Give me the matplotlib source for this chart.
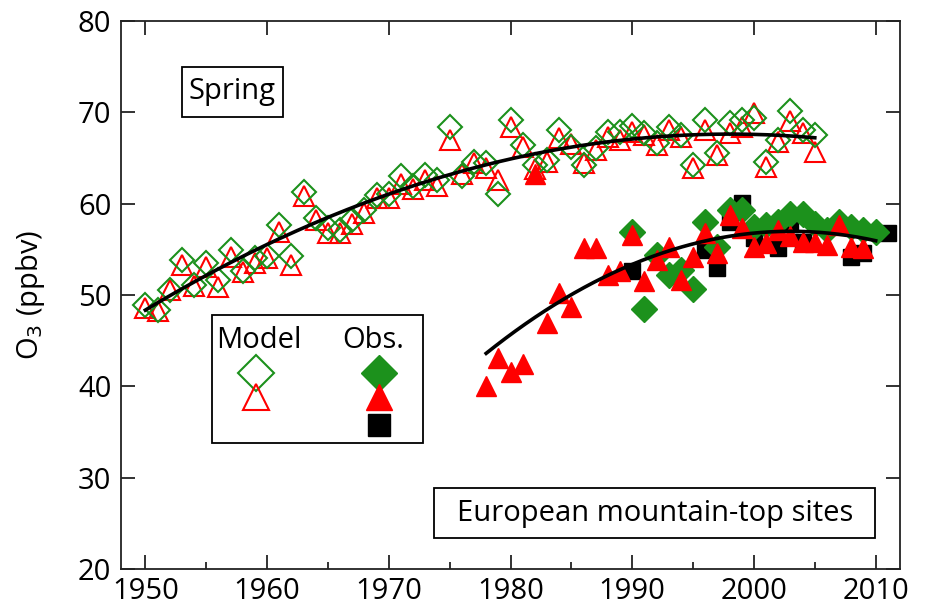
import numpy as np
import matplotlib
matplotlib.use("Agg")
import matplotlib.pyplot as plt
from matplotlib.patches import Rectangle
from matplotlib.ticker import MultipleLocator

plt.rcParams['font.family'] = ['Open Sans', 'DejaVu Sans']

# ---------------- data ----------------
model_years = list(range(1950, 2006))
model_diamond = [48.9, 48.35, 50.55, 53.8, 51.1, 53.5, 51.6, 54.9, 52.6, 54.0,
                 54.3, 57.7, 54.3, 61.3, 58.4, 57.3, 57.1, 58.2, 59.3, 60.9,
                 61.1, 63.0, 61.9, 63.1, 62.6, 68.4, 63.0, 64.6, 64.4, 61.1,
                 69.2, 66.4, 64.2, 64.8, 68.1, 66.2, 64.2, 66.1, 67.9, 67.9,
                 68.5, 67.7, 66.6, 68.4, 67.5, 64.2, 69.2, 65.5, 68.8, 69.2,
                 69.4, 64.6, 67.0, 70.1, 68.1, 67.5]
model_triangle = [48.6, 48.2, 50.6, 53.3, 51.0, 53.1, 50.9, 54.2, 52.5, 53.5,
                  54.1, 56.9, 53.3, 60.8, 58.2, 56.8, 56.8, 57.8, 59.0, 60.6,
                  60.6, 62.2, 61.6, 62.6, 61.9, 67.0, 63.3, 64.4, 63.9, 62.6,
                  68.4, 66.2, 63.8, 64.6, 67.2, 66.5, 64.4, 65.9, 67.3, 67.0,
                  67.9, 67.5, 66.4, 68.1, 67.3, 63.9, 68.1, 65.3, 67.7, 68.4,
                  69.9, 64.0, 66.8, 69.0, 67.7, 65.7]

obs_tri_years = list(range(1978, 2010))
obs_triangle = [40.0, 43.1, 41.6, 42.5, 63.3, 46.9, 50.2, 48.7, 55.1, 55.1,
                52.2, 52.6, 56.6, 51.5, 53.8, 55.3, 51.6, 54.2, 56.8, 54.6,
                58.8, 57.3, 55.3, 55.7, 57.1, 56.5, 55.8, 55.8, 55.5, 57.7,
                55.3, 55.1]
obs_dia_years = list(range(1990, 2011))
obs_diamond = [56.9, 48.5, 54.4, 52.2, 52.7, 50.7, 58.0, 55.3, 59.3, 59.3,
               57.5, 57.7, 58.0, 58.9, 58.9, 57.8, 57.1, 58.0, 57.5, 57.1, 56.9]
obs_sq_years = [1990, 1996, 1997, 1998, 1999, 2000, 2002, 2003, 2004, 2008, 2009, 2011]
obs_square = [52.6, 54.9, 53.0, 58.0, 60.1, 56.2, 55.1, 57.8, 55.8, 54.2, 54.6, 56.8]

x_ticks = [1950, 1960, 1970, 1980, 1990, 2000, 2010]
y_ticks = [20, 30, 40, 50, 60, 70, 80]

GREEN = '#1c911c'
RED = '#ff0000'

# ---------------- figure ----------------
fig = plt.figure(figsize=(9.28, 6.12), dpi=100)
ax = fig.add_axes([121/928, 1-569/612, 779/928, 548/612])

# model (open markers)
ax.plot(model_years, model_triangle, ls='none', marker='^', ms=15,
        mfc='none', mec=RED, mew=1.5, zorder=3)
ax.plot(model_years, model_diamond, ls='none', marker='D', ms=12,
        mfc='none', mec=GREEN, mew=1.5, zorder=4)

# observations (filled)
ax.plot(obs_sq_years, obs_square, ls='none', marker='s', ms=12,
        mfc='black', mec='black', zorder=3)
ax.plot(obs_dia_years, obs_diamond, ls='none', marker='D', ms=13.5,
        mfc=GREEN, mec=GREEN, zorder=4)
ax.plot(obs_tri_years, obs_triangle, ls='none', marker='^', ms=15,
        mfc=RED, mec=RED, zorder=5)

# quadratic fits
my = np.array(model_years * 2, dtype=float)
mv = np.array(model_diamond + model_triangle)
pm = np.polyfit(my, mv, 2)
xm = np.linspace(1950, 2005, 200)
ax.plot(xm, np.polyval(pm, xm), color='black', lw=2.6, zorder=6)

oy = np.array(obs_tri_years + obs_dia_years + obs_sq_years, dtype=float)
ov = np.array(obs_triangle + obs_diamond + obs_square)
po = np.polyfit(oy, ov, 2)
xo = np.linspace(1978, 2010, 200)
ax.plot(xo, np.polyval(po, xo), color='black', lw=2.6, zorder=6)

# axes styling
ax.set_xlim(1948, 2012)
ax.set_ylim(20, 80)
ax.set_xticks(x_ticks)
ax.set_yticks(y_ticks)
ax.xaxis.set_minor_locator(MultipleLocator(5))
for s in ax.spines.values():
    s.set_linewidth(1.3)
    s.set_color('#222222')
ax.tick_params(which='major', direction='in', length=10, width=1.3,
               top=True, right=True, labelsize=21, pad=6, color='#222222')
ax.tick_params(which='minor', direction='in', length=5, width=1.3,
               top=False, right=False, bottom=True, color='#222222')
ax.tick_params(axis='y', pad=7)
fig.text(31/928, 1-295/612, 'O$_3$ (ppbv)', fontsize=21, rotation=90,
         ha='center', va='center')

# text boxes (axes coordinates)
def ax_xy(px, py):
    return ((px - 121) / 779, (569 - py) / 548)

def box(px0, py0, px1, py1):
    x0, y1 = ax_xy(px0, py0)
    x1, y0 = ax_xy(px1, py1)
    ax.add_patch(Rectangle((x0, y0), x1 - x0, y1 - y0, transform=ax.transAxes,
                           fill=False, ec='black', lw=1.3, zorder=7))

box(181.7, 66.7, 283.3, 116.7)
ax.text(*ax_xy(232.5, 92), 'Spring', transform=ax.transAxes, fontsize=21,
        ha='center', va='center', zorder=8)

box(434.3, 488.3, 875, 538.3)
ax.text(*ax_xy(654.7, 513.5), 'European mountain-top sites', transform=ax.transAxes,
        fontsize=21, ha='center', va='center', zorder=8)

# legend
box(211.7, 315, 422.7, 442.7)
ax.text(*ax_xy(259, 341), 'Model', transform=ax.transAxes, fontsize=21,
        ha='center', va='center', zorder=8)
ax.text(*ax_xy(373, 341), 'Obs.', transform=ax.transAxes, fontsize=21,
        ha='center', va='center', zorder=8)
ax.plot(*ax_xy(255.7, 372.7), transform=ax.transAxes, marker='D', ms=18,
        mfc='none', mec=GREEN, mew=1.5, zorder=8)
ax.plot(*ax_xy(255.7, 397), transform=ax.transAxes, marker='^', ms=19,
        mfc='none', mec=RED, mew=1.5, zorder=8)
ax.plot(*ax_xy(379, 372.7), transform=ax.transAxes, marker='D', ms=18,
        mfc=GREEN, mec=GREEN, zorder=8)
ax.plot(*ax_xy(379, 397), transform=ax.transAxes, marker='^', ms=19,
        mfc=RED, mec=RED, zorder=8)
ax.plot(*ax_xy(379, 425), transform=ax.transAxes, marker='s', ms=16,
        mfc='black', mec='black', zorder=8)

fig.savefig('out.png', dpi=100)
